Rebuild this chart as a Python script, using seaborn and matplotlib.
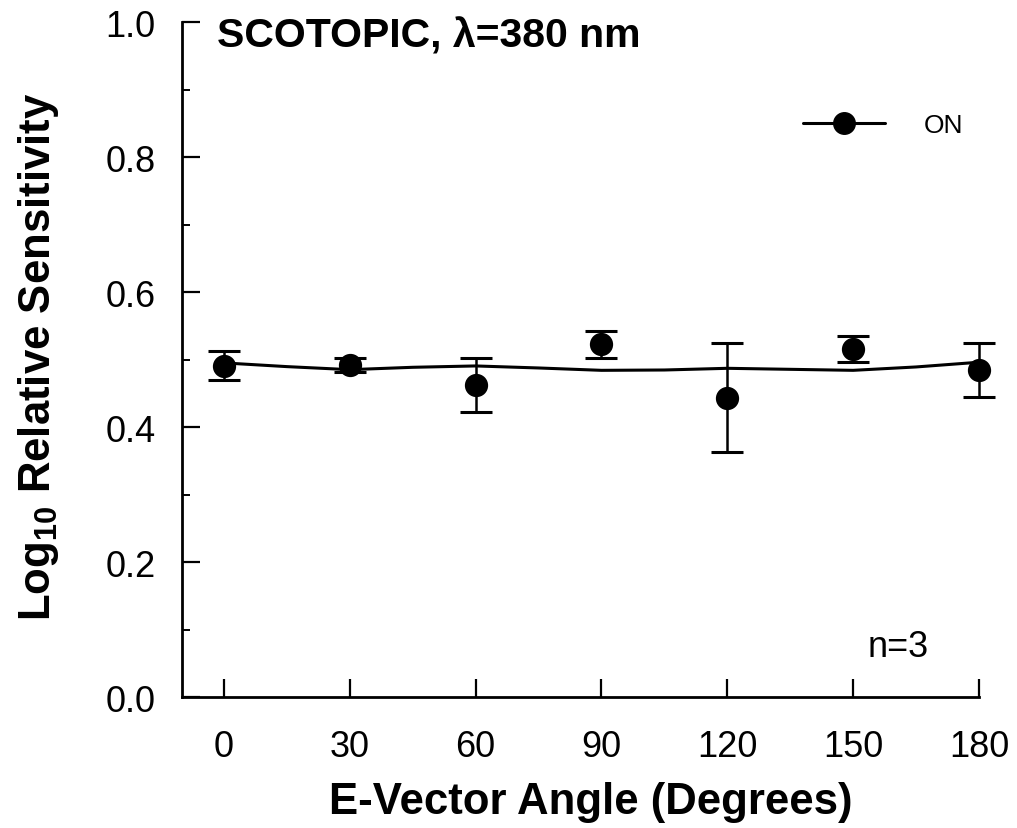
import numpy as np
import pandas as pd
import matplotlib
matplotlib.use("Agg")
import matplotlib.pyplot as plt
from matplotlib.lines import Line2D
from matplotlib.ticker import MultipleLocator
import seaborn as sns

# ---- data ----
angles = [0, 30, 60, 90, 120, 150, 180]
sensitivity = [0.491, 0.492, 0.462, 0.523, 0.443, 0.515, 0.485]
err_low = [0.021, 0.010, 0.040, 0.020, 0.080, 0.019, 0.041]
err_high = [0.021, 0.010, 0.040, 0.020, 0.081, 0.020, 0.040]

fit_angles = [0, 15, 30, 45, 60, 75, 90, 105, 120, 135, 150, 165, 180]
fit_values = [0.495, 0.4895, 0.485, 0.4885, 0.4905, 0.4875, 0.484, 0.4845,
              0.487, 0.4855, 0.484, 0.489, 0.496]

x_ticks = [0, 30, 60, 90, 120, 150, 180]
y_ticks = [0.0, 0.2, 0.4, 0.6, 0.8, 1.0]

title_text = "SCOTOPIC, \u03bb=380 nm"
legend_label = "ON"
n_text = "n=3"

sns.set_style("ticks", {"xtick.direction": "in", "ytick.direction": "in"})
plt.rcParams["font.family"] = ["Liberation Sans", "DejaVu Sans"]
plt.rcParams["mathtext.fontset"] = "custom"
plt.rcParams["mathtext.rm"] = "Liberation Sans"
plt.rcParams["mathtext.bf"] = "Liberation Sans:bold"
for k in ["text.color", "axes.labelcolor", "xtick.color", "ytick.color", "axes.edgecolor"]:
    plt.rcParams[k] = "black"

fig = plt.figure(figsize=(10.17, 8.29), dpi=100)
ax = fig.add_axes([0.179, 0.158, 0.7836, 0.8142])

df_pts = pd.DataFrame({"angle": angles, "sens": sensitivity})
df_fit = pd.DataFrame({"angle": fit_angles, "sens": fit_values})

sns.lineplot(data=df_fit, x="angle", y="sens", color="black", lw=2.2, ax=ax, zorder=2)
ax.errorbar(angles, sensitivity, yerr=[err_low, err_high], fmt="none",
            ecolor="black", elinewidth=1.8, capsize=11.5, capthick=2.2, zorder=3)
sns.scatterplot(data=df_pts, x="angle", y="sens", color="black", edgecolor="black",
                s=240, ax=ax, zorder=4, legend=False)

for art in ax.get_children():
    try:
        art.set_clip_on(False)
    except Exception:
        pass

ax.set_xlim(-10, 180)
ax.set_ylim(0, 1.0)
ax.set_xticks(x_ticks)
ax.set_xticklabels([str(t) for t in x_ticks])
ax.set_yticks(y_ticks)
ax.set_yticklabels([f"{t:.1f}" for t in y_ticks])
ax.yaxis.set_minor_locator(MultipleLocator(0.1))

for s in ["top", "right"]:
    ax.spines[s].set_visible(False)
for s in ["left", "bottom"]:
    ax.spines[s].set_linewidth(2.0)
    ax.spines[s].set_color("black")

ax.tick_params(axis="y", which="major", direction="in", length=13, width=1.6,
               labelsize=26, pad=19, colors="black", left=True)
ax.tick_params(axis="y", which="minor", direction="in", length=6, width=1.4, left=True)
ax.tick_params(axis="x", which="major", direction="in", length=13, width=1.6,
               labelsize=26, pad=23, colors="black", bottom=True)

ax.set_xlabel("E-Vector Angle (Degrees)", fontsize=31.5, fontweight="bold")
ax.set_ylabel(r"Log$_{\mathbf{10}}$ Relative Sensitivity", fontsize=31.5,
              fontweight="bold")
# label positions in axes fraction
ax.xaxis.set_label_coords(0.513, -0.124)
ax.yaxis.set_label_coords(-0.152, 0.505)

ax.text(0.044, 0.9644, title_text, transform=ax.transAxes, fontsize=29.5,
        fontweight="bold", ha="left", va="baseline")
ax.text(0.898, 0.0607, n_text, transform=ax.transAxes, fontsize=26,
        ha="center", va="baseline")

handle = Line2D([], [], color="black", lw=2.2, marker="o", markersize=15.5,
                markerfacecolor="black", markeredgecolor="black")
ax.legend([handle], [legend_label], loc="center left", bbox_to_anchor=(0.779, 0.847),
          frameon=False, fontsize=19, handlelength=3.1, handletextpad=1.5,
          borderpad=0, borderaxespad=0)

fig.savefig("out.png", dpi=100)
